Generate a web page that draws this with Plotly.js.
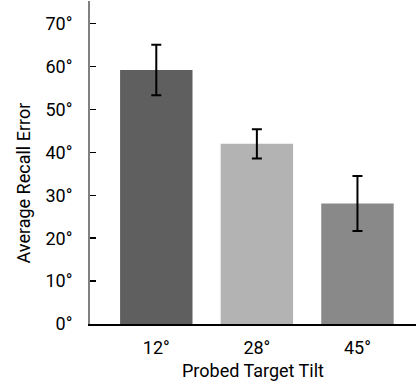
<!DOCTYPE html>
<html>
<head>
<meta charset="utf-8">
<script src="https://cdn.plot.ly/plotly-3.0.1.min.js"></script>
<style>html,body{margin:0;padding:0;background:#fff;}#chart{width:416px;height:389px;}</style>
</head>
<body>
<div id="chart"></div>
<script>
const categories = ["12°", "28°", "45°"];
const meanError = [59.2, 42.0, 28.1];
const errorSize = [5.9, 3.4, 6.4];
const barColors = ["#5f5f5f", "#b3b3b3", "#898989"];
const yTickVals = [0, 10, 20, 30, 40, 50, 60, 70];
const yTickText = ["0°", "10°", "20°", "30°", "40°", "50°", "60°", "70°"];

const FONT = 'Roboto, "DejaVu Sans Condensed", Arial, sans-serif';
const FS = 18;

const trace = {
  type: "bar",
  x: [0, 1, 2],
  y: meanError,
  marker: {color: barColors, line: {width: 0}},
  error_y: {type: "data", array: errorSize, visible: true, color: "#000", thickness: 2, width: 5},
  hoverinfo: "none"
};

const layout = {
  width: 416, height: 389,
  margin: {l: 90, r: 0, t: 1, b: 65},
  paper_bgcolor: "#fff", plot_bgcolor: "#fff",
  font: {family: FONT, size: FS, color: "#000"},
  bargap: 0.28,
  showlegend: false,
  xaxis: {
    range: [-0.659, 2.582],
    tickmode: "array", tickvals: [0, 1, 2], ticktext: categories,
    ticks: "", showgrid: false, zeroline: false,
    showline: true, linecolor: "#000", linewidth: 2,
    ticklabelstandoff: 6,
    tickfont: {family: FONT, size: FS, color: "#000"},
    title: {text: "Probed Target Tilt", font: {family: FONT, size: FS, color: "#000"}, standoff: 8}
  },
  yaxis: {
    range: [0, 75.3],
    tickmode: "array", tickvals: yTickVals, ticktext: yTickText,
    ticks: "inside", ticklen: 6, tickwidth: 1.5, tickcolor: "#000",
    showgrid: false, zeroline: false,
    showline: true, linecolor: "#808080", linewidth: 2,
    ticklabelstandoff: 12,
    tickfont: {family: FONT, size: FS, color: "#000"}
  },
  annotations: [{
    text: "Average Recall Error", textangle: -90,
    xref: "paper", yref: "paper", x: -0.2055, y: 0.435,
    xanchor: "center", yanchor: "middle", showarrow: false,
    font: {family: FONT, size: FS, color: "#000"}
  }]
};

Plotly.newPlot("chart", [trace], layout, {displayModeBar: false, staticPlot: true});
</script>
</body>
</html>
